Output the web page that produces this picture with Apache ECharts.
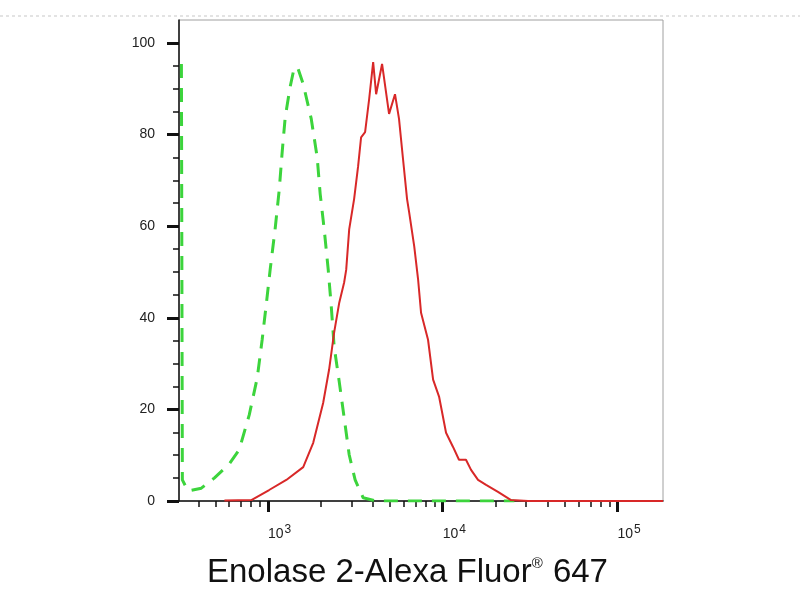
<!DOCTYPE html>
<html>
<head>
<meta charset="utf-8">
<script src="https://cdn.jsdelivr.net/npm/echarts@6/dist/echarts.min.js"></script>
<style>
  html, body { margin: 0; padding: 0; background: #fff; }
  #chart { width: 800px; height: 600px; }
</style>
</head>
<body>
<div id="chart"></div>
<script>
// isotype control (green dashed), fluorescence intensity vs % of max
var ctrlX = [320, 324, 349, 416, 493, 601, 685, 782, 869, 927, 977, 1030, 1102, 1161, 1208, 1256,
             1340, 1416, 1489, 1592, 1770, 1914, 1991, 2099, 2213, 2301, 2393, 2559, 2729, 2917,
             3155, 3508, 4159, 25700];
var ctrlY = [95.4, 4.6, 2.2, 2.8, 5.0, 8.1, 11.2, 18.8, 26.9, 35.2, 42.7, 50.5, 59.7, 68, 76.4, 83.8,
             90.4, 94.7, 94.3, 91, 83.4, 75, 67, 59.3, 50.5, 42.7, 33.7, 26, 18.2, 10.1,
             4.6, 0.7, 0, 0];

// Enolase 2 stained sample (red)
var enoX = [564, 804, 1016, 1274, 1592, 1816, 2070, 2239, 2393, 2559, 2729, 2805, 2917, 3112, 3281,
            3412, 3597, 3793, 4000, 4159, 4498, 4932, 5333, 5623, 5929, 6252, 6427, 6871, 7228,
            7516, 8241, 8810, 9528, 10447, 11455, 12388, 13583, 14521, 15922, 17701, 20701,
            24604, 30761, 182000];
var enoY = [0.1, 0.2, 2.4, 4.6, 7.4, 12.7, 21.4, 28.7, 36.8, 43.3, 47.7, 50.5, 59.3, 65.9, 73.1,
            79.4, 80.5, 87.7, 95.8, 88.8, 95.4, 84.5, 88.8, 83.4, 74.6, 65.9, 63, 55.6, 48.4,
            41.1, 35.2, 26.5, 22.8, 14.9, 11.8, 9.0, 9.0, 6.8, 4.6, 3.5, 2.0,
            0.2, 0, 0];

var xMajorTicks = [1000, 10000, 100000];
var xMinorTicks = [400, 500, 600, 700, 800, 900,
                   2000, 3000, 4000, 5000, 6000, 7000, 8000, 9000,
                   20000, 30000, 40000, 50000, 60000, 70000, 80000, 90000];
var yMajorTicks = [0, 20, 40, 60, 80, 100];
var yMinorTicks = [5, 10, 15, 25, 30, 35, 45, 50, 55, 65, 70, 75, 85, 90, 95];

var xMin = 310, xMax = 182000, yMin = 0, yMax = 105;

function pairs(xs, ys) {
    var res = [];
    for (var i = 0; i < xs.length; ++i) res.push([xs[i], ys[i]]);
    return res;
}

var chart = echarts.init(document.getElementById('chart'));
var font = 'Liberation Sans, Arial, sans-serif';

var option = {
    animation: false,
    textStyle: {fontFamily: font},
    title: {
        text: '{a|Enolase 2-Alexa Fluor}{r|®}{a| 647}',
        left: 202, top: 551,
        textStyle: {
            rich: {
                a: {fontSize: 33, color: '#111', fontFamily: font, fontWeight: 'normal'},
                r: {fontSize: 15, color: '#111', fontFamily: font, fontWeight: 'normal',
                    verticalAlign: 'top', padding: [0, 1, 14, 0]}
            }
        }
    },
    graphic: [{
        type: 'line', silent: true,
        shape: {x1: 0, y1: 16, x2: 800, y2: 16},
        style: {stroke: '#c8c8c8', lineWidth: 1, lineDash: [3, 3]}
    }],
    grid: {left: 179, right: 137, top: 20, bottom: 99, show: true, borderColor: '#a0a0a0', borderWidth: 1},
    xAxis: [{
        type: 'log', logBase: 10, min: xMin, max: xMax,
        axisLine: {lineStyle: {color: '#111', width: 1.5}},
        axisTick: {customValues: xMajorTicks, length: 11, lineStyle: {color: '#111', width: 3}},
        axisLabel: {
            customValues: xMajorTicks, align: 'left', margin: 23,
            formatter: function (v) {
                return '{b|10}{s|' + Math.round(Math.log10(v)) + '}';
            },
            rich: {
                b: {fontSize: 14, color: '#222', fontFamily: font},
                s: {fontSize: 12, color: '#222', fontFamily: font, verticalAlign: 'top', padding: [0, 0, 9, 1]}
            }
        },
        splitLine: {show: false}
    }, {
        type: 'log', logBase: 10, min: xMin, max: xMax, position: 'bottom',
        axisLine: {show: false},
        axisTick: {customValues: xMinorTicks, length: 6, lineStyle: {color: '#111', width: 1.5}},
        axisLabel: {show: false},
        splitLine: {show: false}
    }],
    yAxis: [{
        type: 'value', min: yMin, max: yMax,
        axisLine: {show: true, lineStyle: {color: '#111', width: 1.5}},
        axisTick: {show: true, customValues: yMajorTicks, length: 12, lineStyle: {color: '#111', width: 3}},
        axisLabel: {customValues: yMajorTicks, margin: 24, fontSize: 14, color: '#222'},
        splitLine: {show: false}
    }, {
        type: 'value', min: yMin, max: yMax, position: 'left',
        axisLine: {show: false},
        axisTick: {show: true, customValues: yMinorTicks, length: 6, lineStyle: {color: '#111', width: 1.5}},
        axisLabel: {show: false},
        splitLine: {show: false}
    }],
    series: [{
        name: 'Isotype control', type: 'line',
        data: pairs(ctrlX, ctrlY),
        showSymbol: false, clip: true,
        lineStyle: {color: '#3cd43c', width: 3, type: [14, 10]}
    }, {
        name: 'Enolase 2', type: 'line',
        data: pairs(enoX, enoY),
        showSymbol: false, clip: true,
        lineStyle: {color: '#d82828', width: 2}
    }]
};
chart.setOption(option);
</script>
</body>
</html>
